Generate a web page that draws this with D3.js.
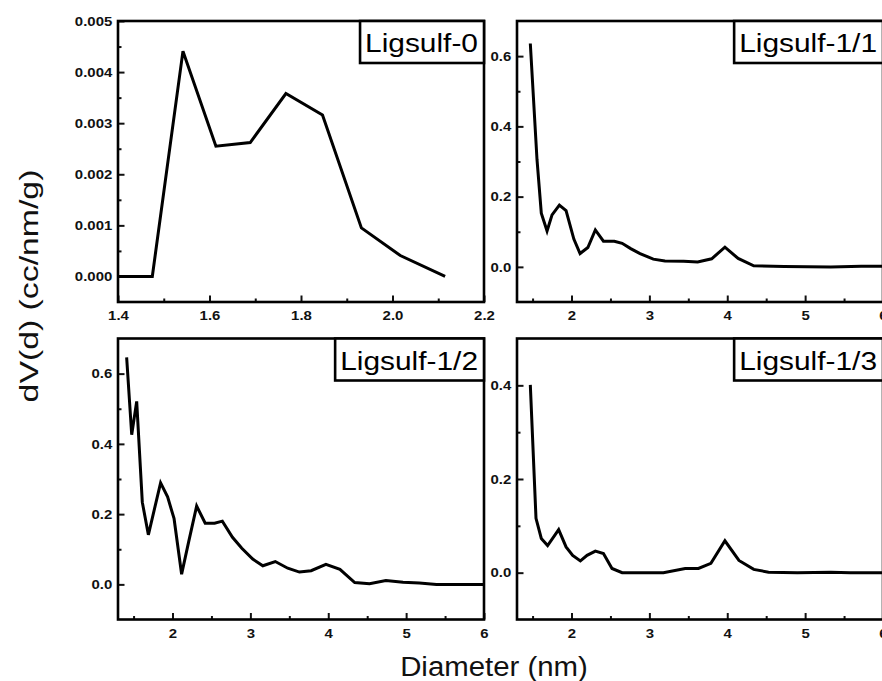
<!DOCTYPE html>
<html>
<head>
<meta charset="utf-8">
<script src="https://cdn.jsdelivr.net/npm/d3@7"></script>
<style>
  body { margin: 0; background: #fff; }
  svg { display: block; font-family: "Liberation Sans", Arial, sans-serif; }
  .tick text { font-weight: bold; font-size: 13px; fill: #111; }
  .tick line { stroke: #111; stroke-width: 2; }
</style>
</head>
<body>
<svg id="chart" width="882" height="681"></svg>
<script>
// pore size distribution
var names = ["Ligsulf-0", "Ligsulf-1/1", "Ligsulf-1/2", "Ligsulf-1/3"];

var diam0 = [1.40, 1.475, 1.542, 1.614, 1.689, 1.767, 1.847, 1.932, 2.017, 2.115];
var dv0   = [0, 0, 0.00441, 0.00255, 0.00262, 0.00358, 0.00316, 0.00095, 0.00041, 0];

var diam11 = [1.471, 1.557, 1.612, 1.686, 1.75, 1.844, 1.93, 2.03, 2.11, 2.21, 2.306, 2.41, 2.55, 2.65, 2.76, 2.88, 3.05, 3.2, 3.44, 3.62, 3.80, 3.97, 4.14, 4.34, 4.73, 5.33, 5.72, 6.0];
var dv11   = [0.636, 0.305, 0.153, 0.102, 0.148, 0.176, 0.16, 0.079, 0.038, 0.055, 0.105, 0.073, 0.073, 0.067, 0.052, 0.038, 0.022, 0.017, 0.016, 0.014, 0.023, 0.056, 0.024, 0.003, 0.001, 0, 0.002, 0.002];

var diam12 = [1.411, 1.476, 1.54, 1.612, 1.69, 1.847, 1.937, 2.02, 2.117, 2.21, 2.31, 2.42, 2.54, 2.64, 2.77, 2.89, 3.03, 3.16, 3.32, 3.48, 3.63, 3.78, 3.97, 4.15, 4.34, 4.53, 4.74, 4.96, 5.17, 5.39, 6.0];
var dv12   = [0.646, 0.426, 0.521, 0.234, 0.141, 0.289, 0.249, 0.187, 0.029, 0.124, 0.223, 0.174, 0.174, 0.18, 0.134, 0.103, 0.072, 0.053, 0.065, 0.046, 0.035, 0.039, 0.057, 0.043, 0.005, 0.002, 0.011, 0.006, 0.004, 0, 0];

var diam13 = [1.471, 1.544, 1.612, 1.693, 1.835, 1.93, 2.015, 2.114, 2.2, 2.306, 2.41, 2.52, 2.65, 3.18, 3.46, 3.63, 3.79, 3.97, 4.15, 4.34, 4.53, 4.90, 5.33, 5.58, 6.0];
var dv13   = [0.401, 0.116, 0.073, 0.058, 0.092, 0.055, 0.037, 0.025, 0.037, 0.046, 0.041, 0.009, 0, 0, 0.009, 0.009, 0.02, 0.068, 0.026, 0.007, 0.001, 0, 0.001, 0, 0];

var xDomains = [[1.4, 2.2], [1.3, 6], [1.3, 6], [1.3, 6]];
var yDomains = [[-0.0005, 0.005], [-0.1, 0.7], [-0.1, 0.7], [-0.1, 0.5]];
var xTicks = [[1.4, 1.6, 1.8, 2.0, 2.2], [2, 3, 4, 5, 6], [2, 3, 4, 5, 6], [2, 3, 4, 5, 6]];
var xMinor = [[1.5, 1.7, 1.9, 2.1], [1.5, 2.5, 3.5, 4.5, 5.5], [1.5, 2.5, 3.5, 4.5, 5.5], [1.5, 2.5, 3.5, 4.5, 5.5]];
var yTicks = [[0, 0.001, 0.002, 0.003, 0.004, 0.005], [0, 0.2, 0.4, 0.6], [0, 0.2, 0.4, 0.6], [0, 0.2, 0.4]];
var yMinor = [[0.0005, 0.0015, 0.0025, 0.0035, 0.0045], [0.1, 0.3, 0.5], [0.1, 0.3, 0.5], [0.1, 0.3]];
var xFormats = [".1f", "d", "d", "d"];
var yFormats = [".3f", ".1f", ".1f", ".1f"];

var series = [
  {x: diam0, y: dv0},
  {x: diam11, y: dv11},
  {x: diam12, y: dv12},
  {x: diam13, y: dv13}
];

var stretch = 1.15;  // the picture's text looks wider than it is tall
var panelW = 366, panelH = 281;
var origins = [[118, 21], [517, 21], [118, 338.5], [517, 338.5]];

var svg = d3.select("#chart");

series.forEach(function(s, i){
  var x = d3.scaleLinear().domain(xDomains[i]).range([0, panelW]);
  var y = d3.scaleLinear().domain(yDomains[i]).range([panelH, 0]);

  var g = svg.append("g")
    .attr("transform", "translate(" + origins[i][0] + "," + origins[i][1] + ")");

  // minor ticks first
  g.append("g")
    .attr("transform", "translate(0," + panelH + ")")
    .call(d3.axisBottom(x).tickValues(xMinor[i]).tickSize(-3.5).tickFormat(""))
    .call(function(a){ a.select(".domain").remove(); });
  g.append("g")
    .call(d3.axisLeft(y).tickValues(yMinor[i]).tickSize(-3.5).tickFormat(""))
    .call(function(a){ a.select(".domain").remove(); });

  var xa = g.append("g")
    .attr("transform", "translate(0," + panelH + ")")
    .call(d3.axisBottom(x).tickValues(xTicks[i]).tickSize(-6.5).tickPadding(9)
      .tickFormat(d3.format(xFormats[i])));
  xa.select(".domain").remove();
  xa.selectAll("text").attr("transform", "scale(" + stretch + ",1)");

  var ya = g.append("g")
    .call(d3.axisLeft(y).tickValues(yTicks[i]).tickSize(-6.5).tickPadding(5)
      .tickFormat(d3.format(yFormats[i])));
  ya.select(".domain").remove();
  ya.selectAll("text").attr("transform", "scale(" + stretch + ",1)");

  var line = d3.line()
    .x(function(d){ return x(d[0]); })
    .y(function(d){ return y(d[1]); });

  g.append("path")
    .datum(d3.zip(s.x, s.y))
    .attr("d", line)
    .attr("fill", "none")
    .attr("stroke", "#000")
    .attr("stroke-width", 3)
    .attr("stroke-linejoin", "miter");

  g.append("rect")
    .attr("width", panelW)
    .attr("height", panelH)
    .attr("fill", "none")
    .attr("stroke", "#000")
    .attr("stroke-width", 2.6);

  // label box in the top right corner
  var lab = g.append("g");
  var box = lab.append("rect");
  var txt = lab.append("text")
    .attr("transform", "translate(" + (panelW - 6) + ",31) scale(" + stretch + ",1)")
    .attr("text-anchor", "end")
    .attr("font-size", 26)
    .attr("fill", "#000")
    .text(names[i]);
  var tw = txt.node().getComputedTextLength() * stretch;
  box.attr("x", panelW - 6 - tw - 5)
    .attr("y", 0)
    .attr("width", tw + 11)
    .attr("height", 42)
    .attr("fill", "#fff")
    .attr("stroke", "#000")
    .attr("stroke-width", 2.6);
});

svg.append("text")
  .attr("transform", "translate(494,676) scale(1.05,1)")
  .attr("text-anchor", "middle")
  .attr("font-size", 28)
  .attr("fill", "#111")
  .text("Diameter (nm)");

svg.append("text")
  .attr("transform", "translate(38,286) rotate(-90) scale(1.3,1)")
  .attr("text-anchor", "middle")
  .attr("font-size", 26)
  .attr("fill", "#111")
  .text("dV(d) (cc/nm/g)");
</script>
</body>
</html>
